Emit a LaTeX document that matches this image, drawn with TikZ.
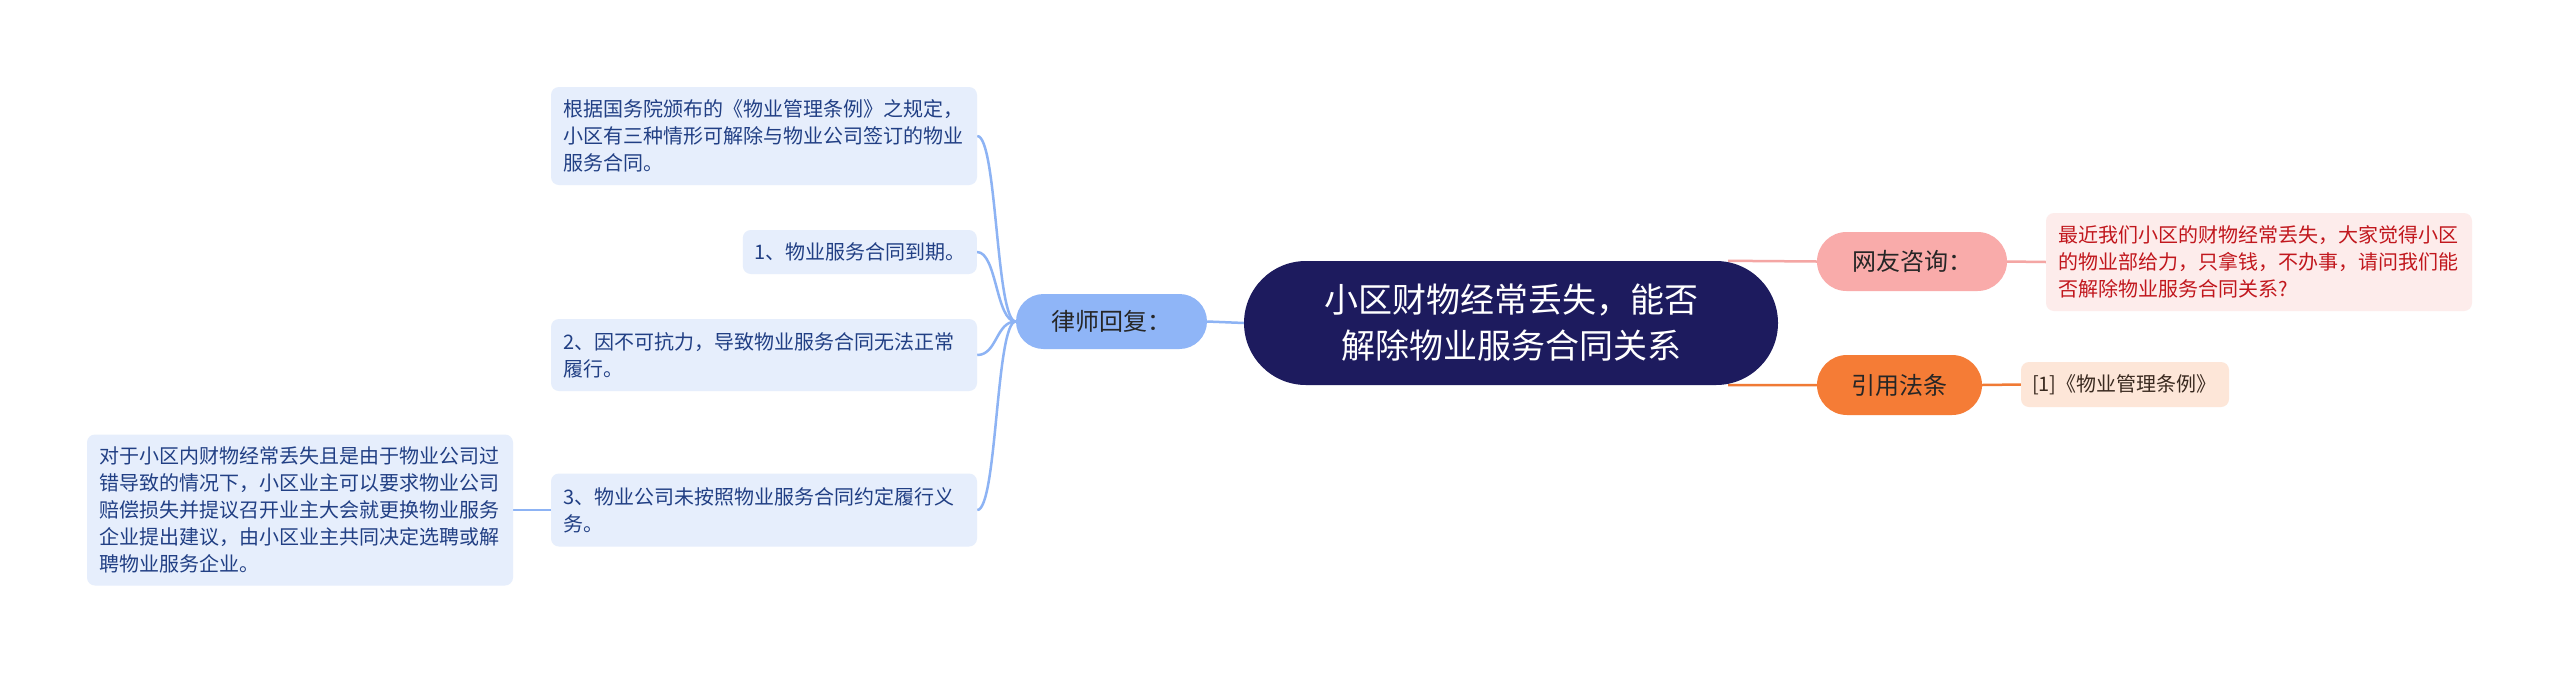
\documentclass[tikz,border=0pt]{standalone}
\usepackage{fontspec}
\setmainfont{Noto Sans CJK SC}
\usetikzlibrary{backgrounds}
\definecolor{navy}{HTML}{1D1B5E}
\definecolor{blueline}{HTML}{8DB3F4}
\definecolor{bluefill}{HTML}{8FB5F7}
\definecolor{leaffill}{HTML}{E6EEFC}
\definecolor{leaftext}{HTML}{213F84}
\definecolor{pinkfill}{HTML}{F9ABAA}
\definecolor{pinkline}{HTML}{F4A6A4}
\definecolor{redfill}{HTML}{FDECEB}
\definecolor{redtext}{HTML}{C1171D}
\definecolor{orangefill}{HTML}{F57C36}
\definecolor{orangeline}{HTML}{F07A35}
\definecolor{lawfill}{HTML}{FDE6D8}
\definecolor{lawtext}{HTML}{3A2A20}
\definecolor{darktext}{HTML}{262626}
\begin{document}
\begin{tikzpicture}[x=1pt,y=-1pt,
  leafbox/.style={fill=leaffill, rounded corners=8pt, text=leaftext,
    font=\fontsize{20}{27}\selectfont, align=left, inner xsep=12pt, inner ysep=4pt},
  widebox/.style={leafbox, text width=402pt},
  pill/.style={text=darktext, font=\fontsize{24}{30}\selectfont, inner sep=0pt},
  blueconn/.style={draw=blueline, line width=2.5pt},
  pinkconn/.style={draw=pinkline, line width=2.5pt},
  orangeconn/.style={draw=orangeline, line width=2.5pt}]
\useasboundingbox (0,0) rectangle (2560,673);

% central topic
\node[fill=navy, text=white, rounded corners=62pt, minimum width=534pt, minimum height=124pt,
  inner sep=0pt, align=center, font=\fontsize{34}{46}\selectfont] (central) at (1511,323)
  {小区财物经常丢失，能否\\解除物业服务合同关系};

% main branches
\node[pill, fill=bluefill, rounded corners=27.5pt, minimum width=191pt, minimum height=55pt] (lawyer) at (1111.5,321.5) {律师回复：};
\node[pill, fill=pinkfill, rounded corners=29.5pt, minimum width=190pt, minimum height=59pt] (friend) at (1912,261.5) {网友咨询：};
\node[pill, fill=orangefill, rounded corners=30pt, minimum width=165pt, minimum height=60pt] (cite) at (1899.5,385) {引用法条};

% left leaves
\node[widebox, minimum height=98pt] (boxA) at (764,136)
  {根据国务院颁布的《物业管理条例》之规定，\\小区有三种情形可解除与物业公司签订的物业\\服务合同。};
\node[leafbox, text width=210pt, minimum height=44pt, anchor=east] (boxB) at (977,252)
  {1、物业服务合同到期。};
\node[widebox, minimum height=72pt] (boxC) at (764,355)
  {2、因不可抗力，导致物业服务合同无法正常\\履行。};
\node[widebox, minimum height=73pt] (boxD) at (764,510)
  {3、物业公司未按照物业服务合同约定履行义\\务。};
\node[widebox, minimum height=151pt] (boxE) at (300,510)
  {对于小区内财物经常丢失且是由于物业公司过\\错导致的情况下，小区业主可以要求物业公司\\赔偿损失并提议召开业主大会就更换物业服务\\企业提出建议，由小区业主共同决定选聘或解\\聘物业服务企业。};

% right leaves
\node[widebox, fill=redfill, text=redtext, minimum height=98pt] (question) at (2259,262)
  {最近我们小区的财物经常丢失，大家觉得小区\\的物业部给力，只拿钱，不办事，请问我们能\\否解除物业服务合同关系?};
\node[leafbox, fill=lawfill, text=lawtext, inner xsep=11pt, text width=186pt, minimum height=45pt] (law) at (2125,384.5)
  {[1]《物业管理条例》};

\begin{pgfonlayer}{background}
  \fill[white] (0,0) rectangle (2560,673);
  \draw[blueconn] (central.west) -- (lawyer.east);
  \foreach \b in {boxA,boxB,boxC,boxD}
    \draw[blueconn] (lawyer.west) .. controls +(-20,0) and +(20,0) .. (\b.east);
  \draw[blueconn] (boxD.west) -- (boxE.east);
  \draw[pinkconn] ([xshift=-50pt]central.north east) -- (friend.west);
  \draw[pinkconn] (friend.east) -- (question.west);
  \draw[orangeconn] ([xshift=-50pt]central.south east) -- (cite.west);
  \draw[orangeconn] (cite.east) -- (law.west);
\end{pgfonlayer}
\end{tikzpicture}
\end{document}
